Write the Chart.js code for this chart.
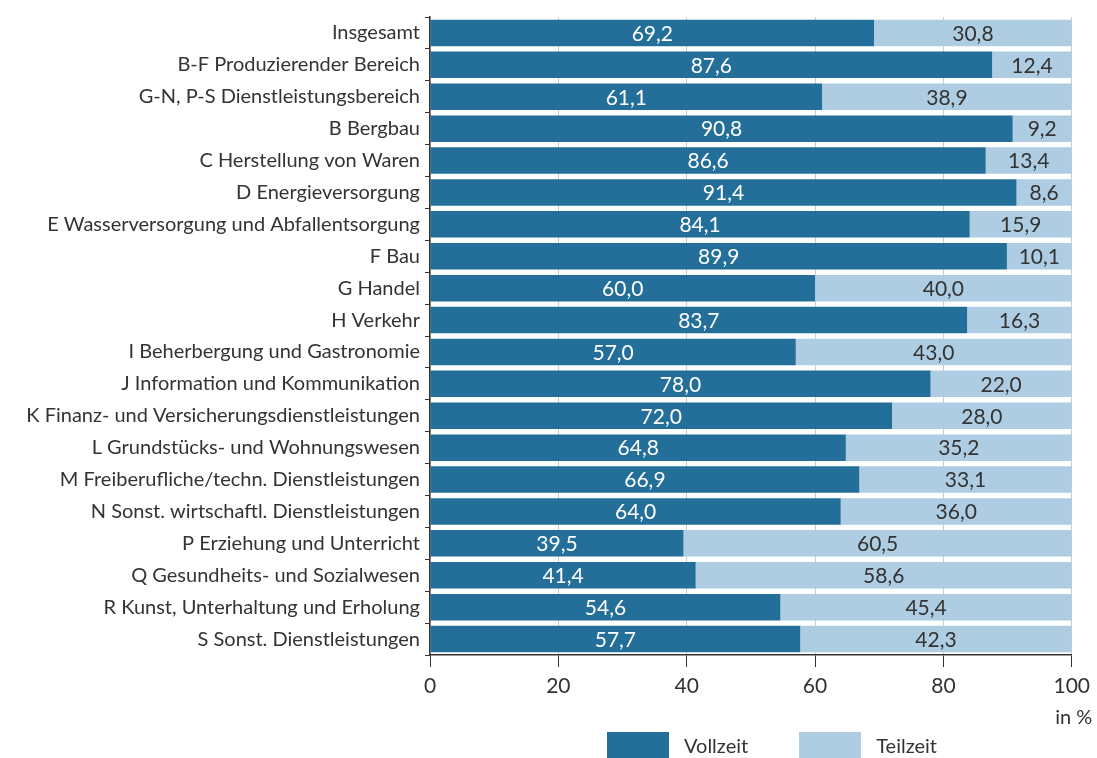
<!DOCTYPE html>
<html>
<head>
<meta charset="utf-8">
<script src="https://cdn.jsdelivr.net/npm/chart.js@4"></script>
<style>
  body { margin: 0; background: #fff; }
  #wrap { position: relative; width: 1097px; height: 758px; }
  #legend { position: absolute; left: 607px; top: 732px; display: flex; font: 20px Lato, sans-serif; color: #333; }
  #legend .item { display: flex; align-items: center; margin-right: 51px; }
  #legend .box { width: 62px; height: 26px; margin-right: 15px; }
</style>
</head>
<body>
<div id="wrap">
  <canvas id="chart" width="1097" height="758"></canvas>
  <div id="legend"></div>
</div>
<script>
var categories = [
    'Insgesamt',
    'B-F Produzierender Bereich',
    'G-N, P-S Dienstleistungsbereich',
    'B Bergbau',
    'C Herstellung von Waren',
    'D Energieversorgung',
    'E Wasserversorgung und Abfallentsorgung',
    'F Bau',
    'G Handel',
    'H Verkehr',
    'I Beherbergung und Gastronomie',
    'J Information und Kommunikation',
    'K Finanz- und Versicherungsdienstleistungen',
    'L Grundstücks- und Wohnungswesen',
    'M Freiberufliche/techn. Dienstleistungen',
    'N Sonst. wirtschaftl. Dienstleistungen',
    'P Erziehung und Unterricht',
    'Q Gesundheits- und Sozialwesen',
    'R Kunst, Unterhaltung und Erholung',
    'S Sonst. Dienstleistungen'
];
var vollzeit = [69.2, 87.6, 61.1, 90.8, 86.6, 91.4, 84.1, 89.9, 60.0, 83.7, 57.0, 78.0, 72.0, 64.8, 66.9, 64.0, 39.5, 41.4, 54.6, 57.7];
var teilzeit = [30.8, 12.4, 38.9, 9.2, 13.4, 8.6, 15.9, 10.1, 40.0, 16.3, 43.0, 22.0, 28.0, 35.2, 33.1, 36.0, 60.5, 58.6, 45.4, 42.3];
var xTicks = [0, 20, 40, 60, 80, 100];

var FONT = 'Lato, sans-serif';
var TEXT = '#333333';

// values inside the bars
var barLabels = {
    id: 'barLabels',
    afterDatasetsDraw: function(chart){
        var ctx = chart.ctx;
        ctx.save();
        ctx.font = '21px ' + FONT;
        ctx.textAlign = 'center';
        ctx.textBaseline = 'middle';
        chart.data.datasets.forEach(function(ds, i){
            var meta = chart.getDatasetMeta(i);
            ctx.fillStyle = i === 0 ? '#ffffff' : TEXT;
            meta.data.forEach(function(bar, j){
                var txt = ds.data[j].toFixed(1).replace('.', ',');
                ctx.fillText(txt, (bar.x + bar.base) / 2, bar.y + 1);
            });
        });
        ctx.restore();
    }
};

// unit under the last tick
var unitLabel = {
    id: 'unitLabel',
    afterDraw: function(chart){
        var x = chart.scales.x;
        var ctx = chart.ctx;
        ctx.save();
        ctx.font = '20px ' + FONT;
        ctx.fillStyle = TEXT;
        ctx.textAlign = 'center';
        ctx.textBaseline = 'middle';
        ctx.fillText('in %', x.getPixelForValue(100) + 2, 718);
        ctx.restore();
    }
};

var myChart = new Chart(document.getElementById('chart'), {
    type: 'bar',
    data: {
        labels: categories,
        datasets: [
            { label: 'Vollzeit', data: vollzeit, backgroundColor: '#236f9a', borderWidth: 0 },
            { label: 'Teilzeit', data: teilzeit, backgroundColor: '#aecde2', borderWidth: 0 }
        ]
    },
    options: {
        indexAxis: 'y',
        responsive: false,
        animation: false,
        layout: { padding: { top: 14, right: 25, bottom: 43, left: 0 } },
        datasets: { bar: { categoryPercentage: 1, barPercentage: 0.83 } },
        plugins: {
            legend: { display: false },
            tooltip: { enabled: false }
        },
        scales: {
            x: {
                stacked: true,
                min: 0,
                max: 100,
                afterBuildTicks: function(s){ s.ticks = xTicks.map(function(v){ return { value: v }; }); },
                afterFit: function(s){ s.height = 60; },
                grid: { color: '#cccccc', tickColor: '#333333', tickLength: 12, lineWidth: 1 },
                border: { color: '#333333', width: 1.5 },
                ticks: { color: TEXT, font: { family: FONT, size: 21 }, padding: 7 }
            },
            y: {
                stacked: true,
                afterFit: function(s){ s.width = 430; },
                grid: { drawOnChartArea: false, color: '#333333', tickLength: 5 },
                border: { color: '#333333', width: 1.5 },
                ticks: { color: TEXT, font: { family: FONT, size: 20 }, padding: 5, autoSkip: false }
            }
        }
    },
    plugins: [barLabels, unitLabel]
});

// legend as html below the chart
var legend = document.getElementById('legend');
myChart.data.datasets.forEach(function(ds){
    var item = document.createElement('div');
    item.className = 'item';
    item.innerHTML = '<span class="box" style="background:' + ds.backgroundColor + '"></span><span>' + ds.label + '</span>';
    legend.appendChild(item);
});
</script>
</body>
</html>
